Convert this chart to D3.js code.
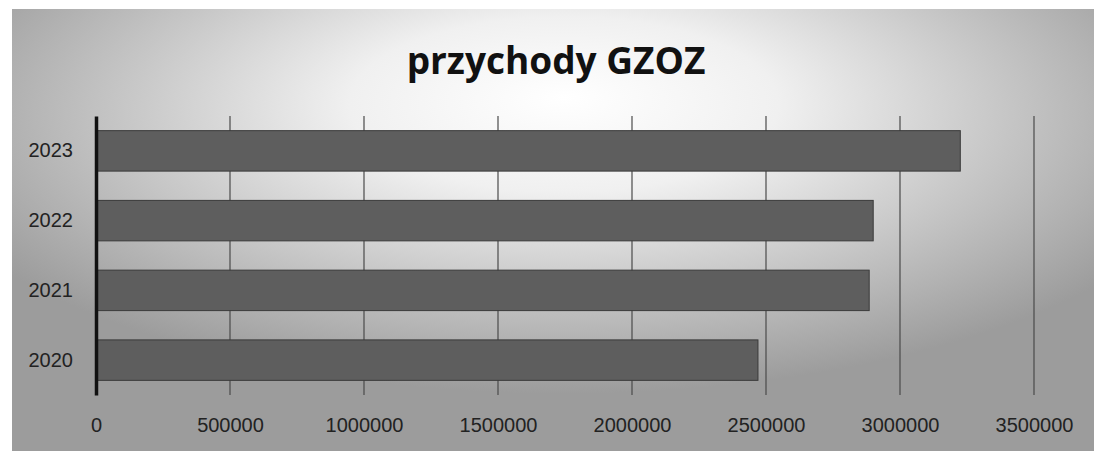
<!DOCTYPE html>
<html>
<head>
<meta charset="utf-8">
<script src="https://cdn.jsdelivr.net/npm/d3@7"></script>
<style>
  body { margin: 0; background: #fff; }
  svg { display: block; }
</style>
</head>
<body>
<div id="chart"></div>
<script>
// chart data
const years = ["2020", "2021", "2022", "2023"];
const revenue = [2470000, 2885000, 2900000, 3225000];
const xTicks = [0, 500000, 1000000, 1500000, 2000000, 2500000, 3000000, 3500000];
const title = "przychody GZOZ";

const W = 1094, H = 451;
const margin = {top: 116, right: 60, bottom: 56, left: 96},
  width = 1034 - margin.left,
  height = 395 - margin.top;

const svg = d3.select("#chart")
  .append("svg")
  .attr("width", W)
  .attr("height", H);

// grey scan-like background with bright centre
const defs = svg.append("defs");
const grad = defs.append("radialGradient")
  .attr("id", "bg")
  .attr("cx", 0.51).attr("cy", 0.25).attr("r", 0.62)
  .attr("fx", 0.51).attr("fy", 0.2);
grad.append("stop").attr("offset", "0%").attr("stop-color", "#ffffff");
grad.append("stop").attr("offset", "32%").attr("stop-color", "#f0f0f0");
grad.append("stop").attr("offset", "100%").attr("stop-color", "#9c9c9c");

svg.append("rect")
  .attr("x", 12).attr("y", 9)
  .attr("width", W - 12).attr("height", H - 9)
  .attr("fill", "url(#bg)");

const g = svg.append("g")
  .attr("transform", "translate(" + margin.left + "," + margin.top + ")");

const x = d3.scaleLinear()
  .domain([0, 3500000])
  .range([0, width]);

const y = d3.scaleBand()
  .domain(years.slice().reverse())
  .range([0, height])
  .paddingInner(0.42)
  .paddingOuter(0.21);

// vertical gridlines
g.append("g")
  .selectAll("line")
  .data(xTicks.slice(1))
  .join("line")
  .attr("x1", d => x(d)).attr("x2", d => x(d))
  .attr("y1", 0).attr("y2", height)
  .attr("stroke", "#4a4a4a")
  .attr("stroke-width", 1.2);

// bars
g.append("g")
  .selectAll("rect")
  .data(years)
  .join("rect")
  .attr("x", 0)
  .attr("y", d => y(d))
  .attr("width", (d, i) => x(revenue[i]))
  .attr("height", y.bandwidth())
  .attr("fill", "#5e5e5e")
  .attr("stroke", "#3a3a3a")
  .attr("stroke-width", 1);

// x axis labels
const xAxis = g.append("g")
  .attr("transform", "translate(0," + height + ")")
  .call(d3.axisBottom(x).tickValues(xTicks).tickFormat(d3.format("d")).tickSize(0).tickPadding(0));
xAxis.select(".domain").remove();
xAxis.selectAll("text")
  .attr("dy", null)
  .attr("y", 37)
  .style("font-family", "'Liberation Sans', Arial, sans-serif")
  .style("font-size", "20px")
  .style("fill", "#222");

// y axis
const yAxis = g.append("g")
  .call(d3.axisLeft(y).tickSize(0).tickPadding(23));
yAxis.select(".domain")
  .attr("stroke", "#111")
  .attr("stroke-width", 3.5);
yAxis.selectAll("text")
  .style("font-family", "'Liberation Sans', Arial, sans-serif")
  .style("font-size", "20px")
  .style("fill", "#222");

// title
svg.append("text")
  .attr("x", 556)
  .attr("y", 74)
  .attr("text-anchor", "middle")
  .style("font-family", "'Open Sans', sans-serif")
  .style("font-weight", "bold")
  .style("font-size", "37px")
  .style("fill", "#111")
  .text(title);
</script>
</body>
</html>
